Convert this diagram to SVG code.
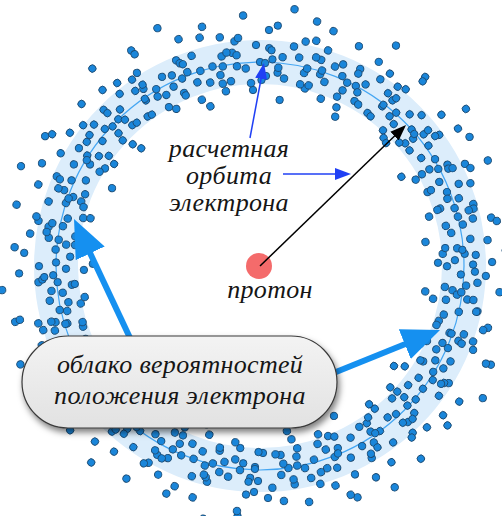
<svg xmlns="http://www.w3.org/2000/svg" xmlns:xlink="http://www.w3.org/1999/xlink" width="502" height="516" viewBox="0 0 502 516">
  <style>
    .dot { fill: #1a86da; stroke: #1d4b72; stroke-width: 0.9; }
    .lbl { font-family: "Liberation Serif", "Times New Roman", serif; font-style: italic; font-size: 26px; letter-spacing: 0.3px; fill: #151515; text-anchor: middle; }
    .thin { stroke: #2040f5; stroke-width: 1.5; fill: none; }
    .thick { stroke: #1590f0; stroke-width: 6; fill: none; }
  </style>
  <defs>
    <marker id="headBlue" markerUnits="userSpaceOnUse" viewBox="0 -7 18 14" markerWidth="18" markerHeight="14" refX="4" refY="0" orient="auto">
      <path d="M0,-6 L16,0 L0,6 Z" fill="#2040f5"/>
    </marker>
    <marker id="headBlack" markerUnits="userSpaceOnUse" viewBox="0 -7 18 14" markerWidth="18" markerHeight="14" refX="4" refY="0" orient="auto">
      <path d="M0,-6 L16,0 L0,6 Z" fill="#000"/>
    </marker>
    <marker id="headBig" markerUnits="userSpaceOnUse" viewBox="0 -17 40 34" markerWidth="40" markerHeight="34" refX="12" refY="0" orient="auto">
      <path d="M0,-16 L38,0 L0,16 Z" fill="#1590f0"/>
    </marker>
    <linearGradient id="boxFill" x1="0" y1="0" x2="0" y2="1">
      <stop offset="0" stop-color="#f3f3f3"/>
      <stop offset="1" stop-color="#e2e2e2"/>
    </linearGradient>
    <filter id="shadow" x="-10%" y="-20%" width="125%" height="150%">
      <feDropShadow dx="2" dy="4" stdDeviation="3" flood-color="#000" flood-opacity="0.5"/>
    </filter>
    <!-- radial "spokes" of electron positions, pointing up from the nucleus -->
    <g id="s1"><circle class="dot" cx="0" cy="-204" r="3.7"/><circle class="dot" cx="6" cy="-190" r="3.7"/><circle class="dot" cx="-4" cy="-221" r="3.7"/><circle class="dot" cx="9" cy="-236" r="3.7"/><circle class="dot" cx="-7" cy="-176" r="3.7"/></g>
    <g id="s2"><circle class="dot" cx="3" cy="-198" r="3.7"/><circle class="dot" cx="-5" cy="-212" r="3.7"/><circle class="dot" cx="7" cy="-183" r="3.7"/><circle class="dot" cx="-2" cy="-229" r="3.7"/><circle class="dot" cx="5" cy="-251" r="3.7"/></g>
    <g id="s3"><circle class="dot" cx="-2" cy="-207" r="3.7"/><circle class="dot" cx="4" cy="-194" r="3.7"/><circle class="dot" cx="-6" cy="-218" r="3.7"/><circle class="dot" cx="8" cy="-167" r="3.7"/><circle class="dot" cx="1" cy="-241" r="3.7"/></g>
    <g id="s4"><circle class="dot" cx="5" cy="-201" r="3.7"/><circle class="dot" cx="-3" cy="-187" r="3.7"/><circle class="dot" cx="2" cy="-215" r="3.7"/><circle class="dot" cx="-8" cy="-232" r="3.7"/><circle class="dot" cx="6" cy="-226" r="3.7"/></g>
    <g id="s5"><circle class="dot" cx="-3" cy="-210" r="3.7"/><circle class="dot" cx="7" cy="-222" r="3.7"/><circle class="dot" cx="1" cy="-189" r="3.7"/><circle class="dot" cx="-6" cy="-199" r="3.7"/><circle class="dot" cx="3" cy="-259" r="3.7"/></g>
    <g id="s6"><circle class="dot" cx="1" cy="-195" r="3.7"/><circle class="dot" cx="-5" cy="-205" r="3.7"/><circle class="dot" cx="6" cy="-213" r="3.7"/><circle class="dot" cx="3" cy="-178" r="3.7"/><circle class="dot" cx="-7" cy="-246" r="3.7"/></g>
    <g id="s7"><circle class="dot" cx="2" cy="-203" r="3.7"/><circle class="dot" cx="-4" cy="-216" r="3.7"/><circle class="dot" cx="5" cy="-186" r="3.7"/></g>
  </defs>

  <rect width="502" height="516" fill="#fff"/>

  <!-- orbit band and computed orbit -->
  <g id="orbit">
    <circle cx="260" cy="266" r="204" fill="none" stroke="#dcedfb" stroke-width="44"/>
    <circle cx="260" cy="266" r="204" fill="none" stroke="#45a6f2" stroke-width="1.2"/>
  </g>

  <!-- electron cloud -->
  <g id="cloud" transform="translate(260 266)">
    <use href="#s1" transform="rotate(0)"/><use href="#s3" transform="rotate(4)"/><use href="#s5" transform="rotate(7)"/><use href="#s2" transform="rotate(12)"/><use href="#s4" transform="rotate(16)"/><use href="#s6" transform="rotate(19)"/>
    <use href="#s3" transform="rotate(24)"/><use href="#s1" transform="rotate(28)"/><use href="#s5" transform="rotate(31)"/><use href="#s4" transform="rotate(36)"/><use href="#s2" transform="rotate(40)"/><use href="#s6" transform="rotate(43)"/>
    <use href="#s1" transform="rotate(48)"/><use href="#s5" transform="rotate(52)"/><use href="#s3" transform="rotate(55)"/><use href="#s6" transform="rotate(60)"/><use href="#s2" transform="rotate(64)"/><use href="#s4" transform="rotate(67)"/>
    <use href="#s5" transform="rotate(72)"/><use href="#s1" transform="rotate(76)"/><use href="#s3" transform="rotate(79)"/><use href="#s2" transform="rotate(84)"/><use href="#s6" transform="rotate(88)"/><use href="#s4" transform="rotate(91)"/>
    <use href="#s3" transform="rotate(96)"/><use href="#s5" transform="rotate(100)"/><use href="#s1" transform="rotate(103)"/><use href="#s4" transform="rotate(108)"/><use href="#s2" transform="rotate(112)"/><use href="#s6" transform="rotate(115)"/>
    <use href="#s5" transform="rotate(120)"/><use href="#s3" transform="rotate(124)"/><use href="#s1" transform="rotate(127)"/><use href="#s6" transform="rotate(132)"/><use href="#s4" transform="rotate(136)"/><use href="#s2" transform="rotate(139)"/>
    <use href="#s1" transform="rotate(144)"/><use href="#s5" transform="rotate(148)"/><use href="#s3" transform="rotate(151)"/><use href="#s2" transform="rotate(156)"/><use href="#s6" transform="rotate(160)"/><use href="#s4" transform="rotate(163)"/>
    <use href="#s3" transform="rotate(168)"/><use href="#s1" transform="rotate(172)"/><use href="#s5" transform="rotate(175)"/><use href="#s4" transform="rotate(180)"/><use href="#s2" transform="rotate(184)"/><use href="#s6" transform="rotate(187)"/>
    <use href="#s5" transform="rotate(192)"/><use href="#s3" transform="rotate(196)"/><use href="#s1" transform="rotate(199)"/><use href="#s6" transform="rotate(204)"/><use href="#s4" transform="rotate(208)"/><use href="#s2" transform="rotate(211)"/>
    <use href="#s1" transform="rotate(216)"/><use href="#s5" transform="rotate(220)"/><use href="#s3" transform="rotate(223)"/><use href="#s2" transform="rotate(228)"/><use href="#s6" transform="rotate(232)"/><use href="#s4" transform="rotate(235)"/>
    <use href="#s3" transform="rotate(240)"/><use href="#s1" transform="rotate(244)"/><use href="#s5" transform="rotate(247)"/><use href="#s4" transform="rotate(252)"/><use href="#s2" transform="rotate(256)"/><use href="#s6" transform="rotate(259)"/>
    <use href="#s5" transform="rotate(264)"/><use href="#s3" transform="rotate(268)"/><use href="#s1" transform="rotate(271)"/><use href="#s6" transform="rotate(276)"/><use href="#s4" transform="rotate(280)"/><use href="#s2" transform="rotate(283)"/>
    <use href="#s1" transform="rotate(288)"/><use href="#s5" transform="rotate(292)"/><use href="#s3" transform="rotate(295)"/><use href="#s2" transform="rotate(300)"/><use href="#s6" transform="rotate(304)"/><use href="#s4" transform="rotate(307)"/>
    <use href="#s3" transform="rotate(312)"/><use href="#s1" transform="rotate(316)"/><use href="#s5" transform="rotate(319)"/><use href="#s4" transform="rotate(324)"/><use href="#s2" transform="rotate(328)"/><use href="#s6" transform="rotate(331)"/>
    <use href="#s5" transform="rotate(336)"/><use href="#s3" transform="rotate(340)"/><use href="#s1" transform="rotate(343)"/><use href="#s6" transform="rotate(348)"/><use href="#s4" transform="rotate(352)"/><use href="#s2" transform="rotate(355)"/>
    <!-- mirrored, sparser second pass to break up the regularity -->
    <use href="#s7" transform="rotate(2) scale(-1 1)"/><use href="#s7" transform="rotate(14) scale(-1 1)"/><use href="#s7" transform="rotate(26) scale(-1 1)"/><use href="#s7" transform="rotate(38) scale(-1 1)"/>
    <use href="#s7" transform="rotate(50) scale(-1 1)"/><use href="#s7" transform="rotate(62) scale(-1 1)"/><use href="#s7" transform="rotate(74) scale(-1 1)"/><use href="#s7" transform="rotate(86) scale(-1 1)"/>
    <use href="#s7" transform="rotate(98) scale(-1 1)"/><use href="#s7" transform="rotate(110) scale(-1 1)"/><use href="#s7" transform="rotate(122) scale(-1 1)"/><use href="#s7" transform="rotate(134) scale(-1 1)"/>
    <use href="#s7" transform="rotate(146) scale(-1 1)"/><use href="#s7" transform="rotate(158) scale(-1 1)"/><use href="#s7" transform="rotate(170) scale(-1 1)"/><use href="#s7" transform="rotate(182) scale(-1 1)"/>
    <use href="#s7" transform="rotate(194) scale(-1 1)"/><use href="#s7" transform="rotate(206) scale(-1 1)"/><use href="#s7" transform="rotate(218) scale(-1 1)"/><use href="#s7" transform="rotate(230) scale(-1 1)"/>
    <use href="#s7" transform="rotate(242) scale(-1 1)"/><use href="#s7" transform="rotate(254) scale(-1 1)"/><use href="#s7" transform="rotate(266) scale(-1 1)"/><use href="#s7" transform="rotate(278) scale(-1 1)"/>
    <use href="#s7" transform="rotate(290) scale(-1 1)"/><use href="#s7" transform="rotate(302) scale(-1 1)"/><use href="#s7" transform="rotate(314) scale(-1 1)"/><use href="#s7" transform="rotate(326) scale(-1 1)"/>
    <use href="#s7" transform="rotate(338) scale(-1 1)"/><use href="#s7" transform="rotate(350) scale(-1 1)"/>
  </g>

  <!-- nucleus -->
  <g id="proton">
    <circle cx="259" cy="266" r="13" fill="#f46b6b"/>
    <text class="lbl" x="270" y="298">протон</text>
  </g>

  <g id="orbit-label">
    <text class="lbl" x="229" y="157">расчетная</text>
    <text class="lbl" x="229" y="184">орбита</text>
    <text class="lbl" x="229" y="211">электрона</text>
  </g>

  <!-- connectors -->
  <g id="connectors">
    <line class="thin" x1="250" y1="138" x2="261.8" y2="74.8" marker-end="url(#headBlue)"/>
    <line class="thin" x1="283" y1="174" x2="339" y2="174" marker-end="url(#headBlue)"/>
    <line x1="260" y1="266" x2="397.4" y2="133.3" stroke="#000" stroke-width="1.5" marker-end="url(#headBlack)"/>
    <line class="thick" x1="131" y1="340" x2="85.1" y2="242.5" marker-end="url(#headBig)"/>
    <line class="thick" x1="336" y1="372" x2="415.9" y2="339.7" marker-end="url(#headBig)"/>
  </g>

  <g id="cloud-label">
    <rect x="22" y="336" width="315" height="92" rx="46" ry="46" fill="url(#boxFill)" stroke="#3a3a3a" stroke-width="1.2" filter="url(#shadow)"/>
    <text class="lbl" x="180" y="373">облако вероятностей</text>
    <text class="lbl" x="180" y="404">положения электрона</text>
  </g>
</svg>
